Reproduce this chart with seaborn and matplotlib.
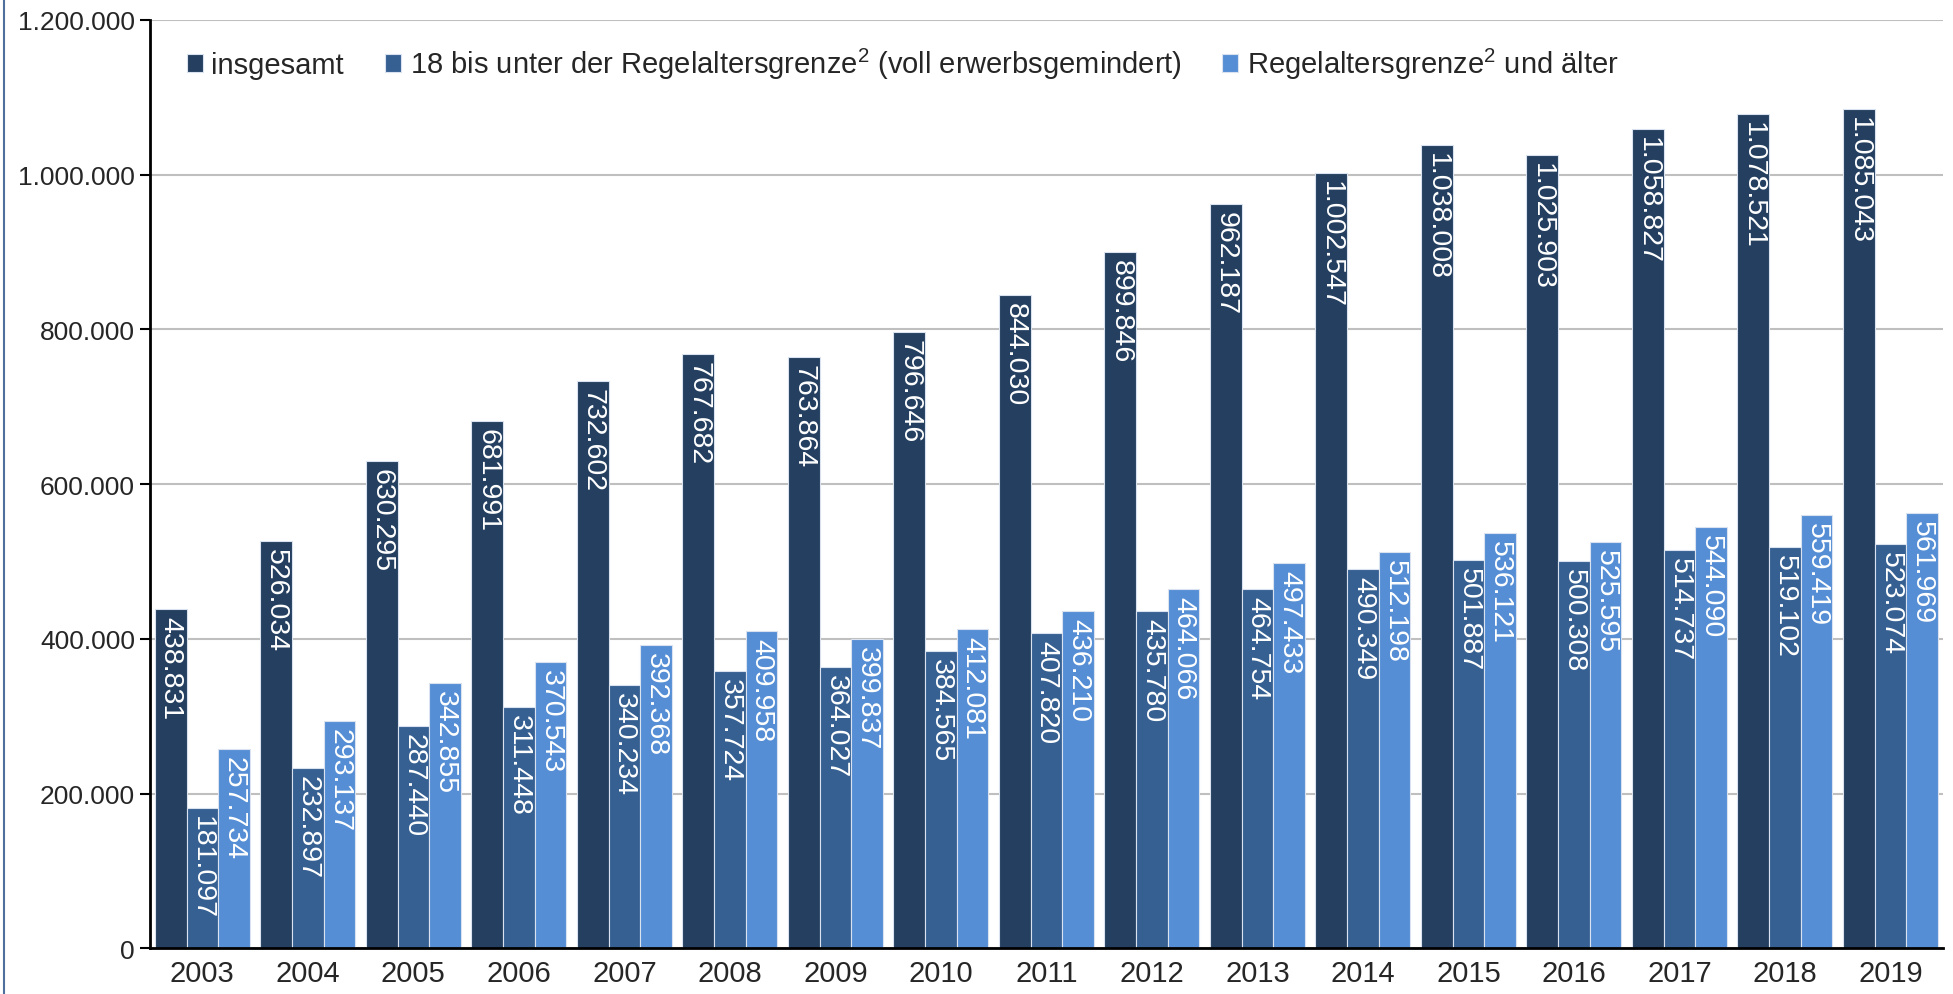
import pandas as pd
import matplotlib
matplotlib.use('Agg')
import matplotlib.pyplot as plt
import matplotlib.ticker as mticker
import seaborn as sns

# Data
years = ['2003', '2004', '2005', '2006', '2007', '2008', '2009', '2010', '2011',
         '2012', '2013', '2014', '2015', '2016', '2017', '2018', '2019']
insgesamt = [438831, 526034, 630295, 681991, 732602, 767682, 763864, 796646, 844030,
             899846, 962187, 1002547, 1038008, 1025903, 1058827, 1078521, 1085043]
erwerbsgemindert = [181097, 232897, 287440, 311448, 340234, 357724, 364027, 384565, 407820,
                    435780, 464754, 490349, 501887, 500308, 514737, 519102, 523074]
regelalter = [257734, 293137, 342855, 370543, 392368, 409958, 399837, 412081, 436210,
              464066, 497433, 512198, 536121, 525595, 544090, 559419, 561969]

series_names = ['insgesamt',
                r'18 bis unter der Regelaltersgrenze$^{2}$ (voll erwerbsgemindert)',
                r'Regelaltersgrenze$^{2}$ und älter']
colors = ['#243F60', '#366092', '#558ED5']

df = pd.DataFrame({
    'Jahr': years * 3,
    'Wert': insgesamt + erwerbsgemindert + regelalter,
    'Gruppe': [series_names[0]] * 17 + [series_names[1]] * 17 + [series_names[2]] * 17,
})

sns.set_style('white')
plt.rcParams['font.family'] = ['Liberation Sans', 'DejaVu Sans']
plt.rcParams['mathtext.fontset'] = 'custom'
plt.rcParams['mathtext.rm'] = 'Liberation Sans'
plt.rcParams['mathtext.it'] = 'Liberation Sans'
plt.rcParams['mathtext.default'] = 'regular'

fig = plt.figure(figsize=(19.53, 9.95), dpi=100)
ax = fig.add_axes([0.0766, 0.046, 0.9184, 0.933])

sns.barplot(data=df, x='Jahr', y='Wert', hue='Gruppe', palette=colors,
            width=0.9, saturation=1, edgecolor='#D9E2EE', linewidth=0.8, ax=ax)


def fmt(v):
    return f'{int(v):,}'.replace(',', '.')


# value labels inside the bars, rotated
for container, vals in zip(ax.containers, [insgesamt, erwerbsgemindert, regelalter]):
    for bar, v in zip(container, vals):
        ax.annotate(fmt(v), (bar.get_x() + bar.get_width() / 2, bar.get_height()),
                    xytext=(0, -5), textcoords='offset points',
                    rotation=-90, ha='center', va='top', color='white', fontsize=20.5)

ax.set_ylim(0, 1200000)
ax.set_xlim(-0.5, 16.5)
ax.yaxis.set_major_locator(mticker.MultipleLocator(200000))
ax.yaxis.set_major_formatter(mticker.FuncFormatter(lambda v, p: fmt(v)))
ax.yaxis.grid(True, color='#BFBFBF', linewidth=1.5)
ax.set_axisbelow(True)

# x ticks at group boundaries
ax.xaxis.set_minor_locator(mticker.FixedLocator([i - 0.5 for i in range(18)]))
ax.tick_params(axis='x', which='major', length=0, labelsize=21, pad=8)
ax.tick_params(axis='x', which='minor', length=8, width=1.5, color='black', direction='out')
ax.tick_params(axis='y', length=7, width=1.5, color='black', labelsize=19, left=True, direction='out')

ax.set_xlabel('')
ax.set_ylabel('')
for s in ['top', 'right']:
    ax.spines[s].set_visible(False)
for s in ['left', 'bottom']:
    ax.spines[s].set_color('black')
    ax.spines[s].set_linewidth(2)

ax.legend(title=None, loc='upper left', bbox_to_anchor=(0.006, 1.0), ncol=3,
          frameon=False, fontsize=21, handlelength=0.55, handleheight=0.55,
          handletextpad=0.3, columnspacing=1.4)

fig.add_artist(plt.Line2D([0.002, 0.002], [0, 1], color='#4F6F9F', linewidth=1.5))

fig.savefig('out.png', dpi=100)
